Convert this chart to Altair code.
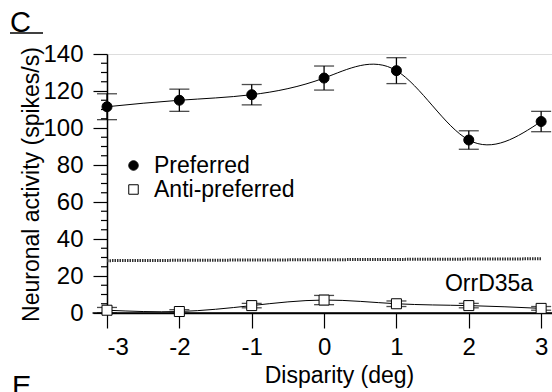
import altair as alt
import pandas as pd

disparity = [-3, -2, -1, 0, 1, 2, 3]
pref = [111.5, 115, 118, 127, 131, 93.5, 103.5]
pref_err = [7, 6, 5.5, 6.5, 7, 5, 5.5]
anti = [1.5, 0.8, 4, 7, 5, 4, 2.5]
anti_err = [1.5, 1, 1.2, 2.5, 1.5, 1.2, 1]
spont_x = [-3, 3]
spont_y = [28.3, 29.3]
series_names = ["Preferred", "Anti-preferred"]
y_major = list(range(0, 141, 20))
y_minor = [v for v in range(0, 141, 5) if v % 20 != 0]
x_ticks = [-3, -2, -1, 0, 1, 2, 3]
cell_label = "OrrD35a"
label_pos = (2.28, 15.5)

FONT = "Liberation Sans"
FS = 23
LFS = 24

rows = []
for name, ys, es in [(series_names[0], pref, pref_err), (series_names[1], anti, anti_err)]:
    for x, y, e in zip(disparity, ys, es):
        rows.append({"x": x, "y": y, "lo": y - e, "hi": y + e, "series": name})
df = pd.DataFrame(rows)
df_spont = pd.DataFrame({"x": spont_x, "y": spont_y})
df_zero = pd.DataFrame({"x": [-3.2], "x2": [3.15], "y": [0]})
df_lab = pd.DataFrame({"x": [label_pos[0]], "y": [label_pos[1]], "t": [cell_label]})
df_minor = pd.DataFrame({"y": y_minor})

xscale = alt.Scale(domain=[-3, 3.15], nice=False, zero=False)
yscale = alt.Scale(domain=[0, 140], nice=False, zero=False)

xaxis = alt.Axis(values=x_ticks, title="Disparity (deg)", grid=False,
                 labelExpr="'' + datum.value",
                 labelFontSize=LFS, titleFontSize=FS, labelFont=FONT, titleFont=FONT,
                 titleFontWeight="normal", tickSize=15, labelPadding=7,
                 tickColor="black", domainColor="black", labelColor="black",
                 titleColor="black", tickWidth=1.2, domainWidth=1.5,
                 titleX=232, titleY=69, titleBaseline="alphabetic", titleAlign="center")
yaxis = alt.Axis(values=y_major, title="Neuronal activity (spikes/s)", grid=False,
                 tickSize=14, labelFontSize=LFS, titleFontSize=FS, labelFont=FONT, titleFont=FONT,
                 titleFontWeight="normal", labelPadding=10,
                 tickColor="black", domainColor="black", labelColor="black",
                 titleColor="black", tickWidth=1.2, domainWidth=1.5,
                 titleX=-69, titleY=130, titleBaseline="alphabetic", titleAlign="center", titleAngle=270)

X = alt.X("x:Q", scale=xscale, axis=xaxis)
Y = alt.Y("y:Q", scale=yscale, axis=yaxis)

zero = alt.Chart(df_zero).mark_rule(color="black", strokeWidth=1.5, clip=False).encode(
    x=alt.X("x:Q", scale=xscale, axis=xaxis), x2="x2:Q", y=Y)

minor = alt.Chart(df_minor).mark_rule(color="black", strokeWidth=1.2).encode(
    x=alt.value(-6), x2=alt.value(0), y=Y)

spont = alt.Chart(df_spont).mark_line(color="#333333", strokeWidth=3, strokeDash=[1.5, 1]).encode(x=X, y=Y)

lines = alt.Chart(df).mark_line(color="black", strokeWidth=1, interpolate="natural").encode(
    x=X, y=Y, detail="series:N")

err = alt.Chart(df).mark_rule(color="black", strokeWidth=1.3).encode(
    x=X, y=alt.Y("lo:Q", scale=yscale, axis=yaxis), y2="hi:Q")

caps = alt.Chart(df).transform_fold(["lo", "hi"], as_=["k", "v"]).mark_tick(
    orient="horizontal", color="black", thickness=1.3, size=20).encode(
    x=X, y=alt.Y("v:Q", scale=yscale, axis=yaxis))

leg = alt.Legend(title=None, orient="none", legendX=15, legendY=100,
                 labelFontSize=FS, labelFont=FONT, labelColor="black",
                 symbolSize=90, symbolStrokeWidth=1,
                 labelOffset=9, rowPadding=-4, padding=0)

points = alt.Chart(df).mark_point(filled=True, strokeWidth=1, opacity=1, size=100).encode(
    x=X, y=Y,
    shape=alt.Shape("series:N", scale=alt.Scale(domain=series_names, range=["circle", "square"]), legend=leg),
    fill=alt.Fill("series:N", scale=alt.Scale(domain=series_names, range=["black", "white"]), legend=leg),
    stroke=alt.Stroke("series:N", scale=alt.Scale(domain=series_names, range=["black", "black"]), legend=leg),
)

lab = alt.Chart(df_lab).mark_text(fontSize=23, font=FONT, color="black", align="center",
                                  baseline="middle").encode(x=X, y=Y, text="t:N")

letterC = alt.Chart(df_lab).mark_text(fontSize=29, font=FONT, color="black", align="left",
                                      baseline="alphabetic", text="C").encode(
    x=alt.value(-97), y=alt.value(-22))
underC = alt.Chart(df_lab).mark_rule(color="black", strokeWidth=1.5).encode(
    x=alt.value(-97), x2=alt.value(-64), y=alt.value(-21))
letterE = alt.Chart(df_lab).mark_text(fontSize=29, font=FONT, color="black", align="left",
                                      baseline="alphabetic", text="E").encode(
    x=alt.value(-95), y=alt.value(342))

chart = alt.layer(zero, minor, spont, lines, err, caps, points, lab, letterC, underC, letterE).properties(
    width=445, height=259,
    padding={"left": 107, "top": 54, "right": 0, "bottom": 79},
    autosize=alt.AutoSizeParams(type="none"),
).configure_view(stroke=None).configure(background="white")

chart.save("out.html", embed_options={"renderer": "svg", "actions": False})
